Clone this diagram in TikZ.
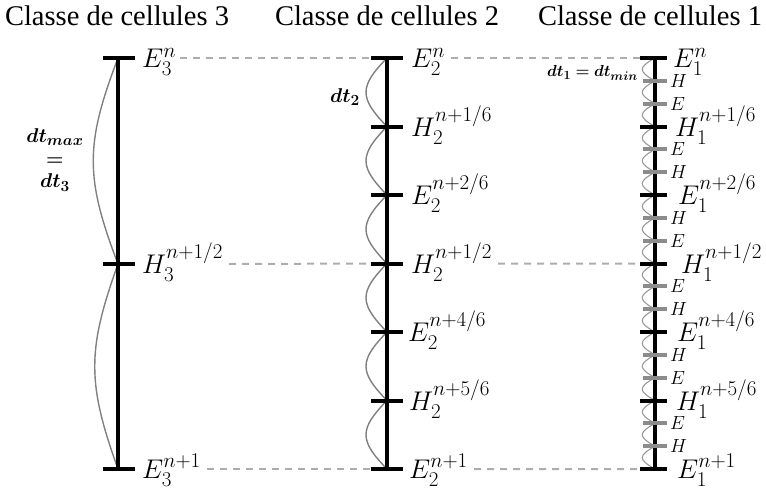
\documentclass[tikz,border=0pt]{standalone}
\usepackage{fix-cm}
\usepackage{amsmath}
\usepackage{bm}
\usepackage{fontspec}
\newfontfamily\titlefont{Liberation Serif}
\DeclareMathSizes{27}{27}{21}{16}
\DeclareMathSizes{20}{20}{15.5}{12}
\DeclareMathSizes{16}{16}{12.5}{10}
\DeclareMathSizes{19}{19}{14}{10}
\usetikzlibrary{calc}
\begin{document}
\begin{tikzpicture}[x=1pt,y=-1pt,
 mainline/.style={line width=4pt,draw=black},
 tickmark/.style={line width=4pt,draw=black},
 subtick/.style={line width=4pt, draw=black!45},
 wave/.style={draw=black!50, line width=1.4pt},
 wavesmall/.style={draw=black!40, line width=1.1pt},
 dashline/.style={draw=black!32, line width=2pt, dash pattern=on 7pt off 6pt},
 lab/.style={inner sep=0pt, anchor=base west, font=\fontsize{27}{30}\selectfont},
 sublab/.style={inner sep=0pt, anchor=west, font=\fontsize{19}{21}\selectfont},
 ttl/.style={inner sep=0pt, anchor=base, font=\titlefont\fontsize{28.5}{30}\selectfont},
 dtlab/.style={inner sep=0pt, align=center, font=\fontsize{20}{22.5}\selectfont},
 bulge/.style={to path={.. controls ($(\tikztostart)!0.42!(\tikztotarget)+(-#1,0)$) and ($(\tikztostart)!0.58!(\tikztotarget)+(-#1,0)$) .. (\tikztotarget)}}
]
\useasboundingbox (0,0) rectangle (766,491);

% titles
\node[ttl] (T3) at (117,25) {Classe de cellules 3};
\node[ttl] (T2) at (387,25) {Classe de cellules 2};
\node[ttl] (T1) at (650,25) {Classe de cellules 1};

% ---------- column 3 ----------
\coordinate (c3-0) at (118,58);
\coordinate (c3-1) at (118,264);
\coordinate (c3-2) at (118,469);
\draw[wave] (c3-0) to[bulge=33] (c3-1);
\draw[wave] (c3-1) to[bulge=31] (c3-2);
\draw[mainline] (c3-0) -- (c3-2);
\foreach \k in {0,1,2} \draw[tickmark] ([xshift=-15pt]c3-\k) -- ([xshift=17pt]c3-\k);
\node[lab] (E3a) at ([xshift=24pt,yshift=-9.5pt]c3-0) {$E_3^n$};
\node[lab] (H3b) at ([xshift=24pt,yshift=-9.5pt]c3-1) {$H_3^{n+1/2}$};
\node[lab] (E3c) at ([xshift=24pt,yshift=-9.5pt]c3-2) {$E_3^{n+1}$};
\node[dtlab] (dt3) at (55,160) {$\bm{dt_{max}}$\\$\bm{=}$\\$\bm{dt_3}$};

% ---------- column 2 ----------
\foreach \k in {0,...,6} \coordinate (c2-\k) at (387,58+\k*68.5);
\foreach \k in {0,...,5}{\pgfmathtruncatemacro\n{\k+1}
  \draw[wave] (c2-\k) to[bulge=28] (c2-\n);}
\draw[mainline] (c2-0) -- (c2-6);
\foreach \k in {0,...,6}{
  \coordinate (c2-\k L) at ([xshift=-16pt]c2-\k);
  \draw[tickmark] (c2-\k L) -- ([xshift=16pt]c2-\k);}
\node[lab] (E2a) at ([xshift=24pt,yshift=-9.5pt]c2-0) {$E_2^n$};
\node[lab] (H2b) at ([xshift=24pt,yshift=-9.5pt]c2-1) {$H_2^{n+1/6}$};
\node[lab] (E2c) at ([xshift=24pt,yshift=-9.5pt]c2-2) {$E_2^{n+2/6}$};
\node[lab] (H2d) at ([xshift=24pt,yshift=-9.5pt]c2-3) {$H_2^{n+1/2}$};
\node[lab] (E2e) at ([xshift=21pt,yshift=-9.5pt]c2-4) {$E_2^{n+4/6}$};
\node[lab] (H2f) at ([xshift=22pt,yshift=-9.5pt]c2-5) {$H_2^{n+5/6}$};
\node[lab] (E2g) at ([xshift=22pt,yshift=-9.5pt]c2-6) {$E_2^{n+1}$};
\node[dtlab] (dt2) at (345,97) {$\bm{dt_2}$};

% ---------- column 1 ----------
\foreach \j in {0,...,18} \coordinate (c1-\j) at (655,58+\j*22.8333);
\foreach \j in {0,...,17}{\pgfmathtruncatemacro\n{\j+1}
  \draw[wavesmall] (c1-\j) to[bulge=17] (c1-\n);}
\draw[mainline] (c1-0) -- (c1-18);
\foreach \j in {1,2,4,5,7,8,10,11,13,14,16,17}
  \draw[subtick] ([xshift=-12pt]c1-\j) -- ([xshift=12pt]c1-\j);
\foreach \j in {0,3,...,18}{
  \coordinate (c1-\j L) at ([xshift=-15pt]c1-\j);
  \draw[tickmark] (c1-\j L) -- ([xshift=12pt]c1-\j);}
\node[lab] (E1a) at ([xshift=18pt,yshift=-9.5pt]c1-0) {$E_1^n$};
\node[lab] (H1b) at ([xshift=20pt,yshift=-9.5pt]c1-3) {$H_1^{n+1/6}$};
\node[lab] (E1c) at ([xshift=23pt,yshift=-9.5pt]c1-6) {$E_1^{n+2/6}$};
\node[lab] (H1d) at ([xshift=26pt,yshift=-9.5pt]c1-9) {$H_1^{n+1/2}$};
\node[lab] (E1e) at ([xshift=22pt,yshift=-9.5pt]c1-12) {$E_1^{n+4/6}$};
\node[lab] (H1f) at ([xshift=21pt,yshift=-9.5pt]c1-15) {$H_1^{n+5/6}$};
\node[lab] (E1g) at ([xshift=22pt,yshift=-9.5pt]c1-18) {$E_1^{n+1}$};
\node[sublab] (s1) at ([xshift=15pt]c1-1) {$H$};
\node[sublab] (s2) at ([xshift=15pt]c1-2) {$E$};
\node[sublab] (s4) at ([xshift=15pt]c1-4) {$E$};
\node[sublab] (s5) at ([xshift=15pt]c1-5) {$H$};
\node[sublab] (s7) at ([xshift=15pt]c1-7) {$H$};
\node[sublab] (s8) at ([xshift=15pt]c1-8) {$E$};
\node[sublab] (s10) at ([xshift=15pt]c1-10) {$E$};
\node[sublab] (s11) at ([xshift=15pt]c1-11) {$H$};
\node[sublab] (s13) at ([xshift=15pt]c1-13) {$H$};
\node[sublab] (s14) at ([xshift=15pt]c1-14) {$E$};
\node[sublab] (s16) at ([xshift=15pt]c1-16) {$E$};
\node[sublab] (s17) at ([xshift=15pt]c1-17) {$H$};
\node[dtlab, anchor=east, font=\fontsize{16}{18}\selectfont] (dt1) at (638,73) {$\bm{dt_1 = dt_{min}}$};

% ---------- dashed links ----------
\draw[dashline] ($(E3a.east |- c3-0)+(4,0)$) -- (c2-0L);
\draw[dashline] ($(H3b.east |- c3-1)+(6,0)$) -- (c2-3L);
\draw[dashline] ($(E3c.east |- c3-2)+(6,0)$) -- (c2-6L);
\draw[dashline] ($(E2a.east |- c2-0)+(6,0)$) -- (c1-0L);
\draw[dashline] ($(H2d.east |- c2-3)+(6,0)$) -- (c1-9L);
\draw[dashline] ($(E2g.east |- c2-6)+(6,0)$) -- (c1-18L);
\end{tikzpicture}
\end{document}
